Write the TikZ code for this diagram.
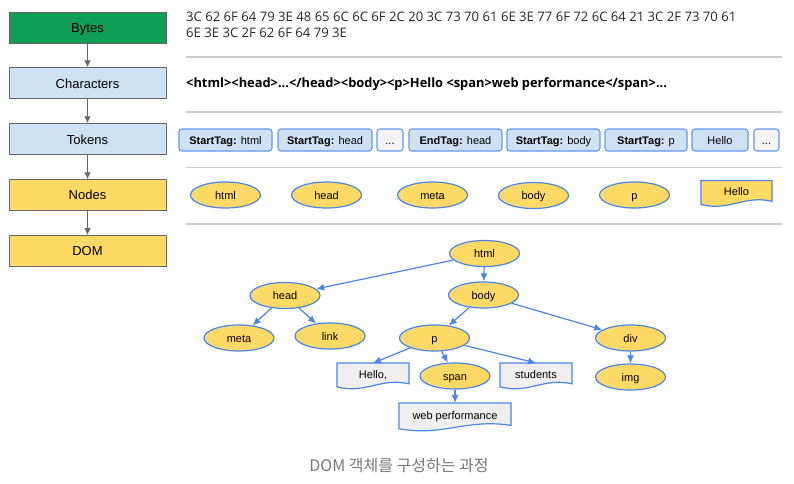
\documentclass[tikz,border=0pt]{standalone}
\usepackage{tikz}
\usetikzlibrary{arrows.meta,shapes.geometric,positioning}
\usepackage{xcolor}
\usepackage{fontspec}
\setmainfont{Liberation Sans}
\newfontfamily\hexfont{Open Sans}
\newfontfamily\krfont{Noto Sans CJK KR}

\definecolor{bytegreen}{HTML}{0F9D58}
\definecolor{charblue}{HTML}{CFE2F3}
\definecolor{nodeyellow}{HTML}{FFD966}
\definecolor{edgeblue}{HTML}{4A86E8}
\definecolor{docgray}{HTML}{EFEFEF}
\definecolor{dotgray}{HTML}{F3F3F3}
\definecolor{rulegray}{HTML}{CCCCCC}
\definecolor{stagegray}{HTML}{666666}
\definecolor{captiongray}{HTML}{777777}

% page with a wavy lower edge
\pgfdeclareshape{docpage}{
	\inheritsavedanchors[from=rectangle]
	\inheritanchorborder[from=rectangle]
	\inheritanchor[from=rectangle]{center}
	\inheritanchor[from=rectangle]{north}
	\inheritanchor[from=rectangle]{south}
	\inheritanchor[from=rectangle]{east}
	\inheritanchor[from=rectangle]{west}
	\inheritanchor[from=rectangle]{north east}
	\inheritanchor[from=rectangle]{north west}
	\inheritanchor[from=rectangle]{south east}
	\inheritanchor[from=rectangle]{south west}
	\backgroundpath{
		\southwest \pgfgetlastxy{\docxa}{\docya}
		\northeast \pgfgetlastxy{\docxb}{\docyb}
		\pgfpathmoveto{\pgfpoint{\docxa}{\docyb}}
		\pgfpathlineto{\pgfpoint{\docxb}{\docyb}}
		\pgfpathlineto{\pgfpoint{\docxb}{\docya+0.2*(\docyb-\docya)}}
		\pgfpathcurveto
			{\pgfpoint{\docxa+0.6*(\docxb-\docxa)}{\docya+0.45*(\docyb-\docya)}}
			{\pgfpoint{\docxa+0.4*(\docxb-\docxa)}{\docya-0.2*(\docyb-\docya)}}
			{\pgfpoint{\docxa}{\docya+0.08*(\docyb-\docya)}}
		\pgfpathclose
	}
}

\begin{document}
\begin{tikzpicture}[x=1pt,y=-1pt]
\tikzstyle{stage} = [
	shape=rectangle,
	draw=stagegray, %grey border
	line width=0.9pt,
	minimum width=157pt,
	minimum height=31pt,
	text height=9.4pt, text depth=0pt,
	font=\fontsize{13}{15}\selectfont
];
\tikzstyle{token} = [
	shape=rectangle,
	rounded corners=3pt,
	draw=edgeblue!85,
	fill=charblue,
	line width=1.1pt,
	minimum height=22pt,
	inner sep=0pt,
	text height=8pt, text depth=0pt,
	font=\fontsize{11}{13}\selectfont
];
\tikzstyle{tagnode} = [
	shape=ellipse,
	draw=edgeblue,
	fill=nodeyellow,
	line width=1.2pt,
	minimum width=70pt,
	minimum height=26pt,
	inner sep=0pt,
	text height=8pt, text depth=0pt,
	font=\fontsize{11}{13}\selectfont
];
\tikzstyle{docnode} = [
	shape=docpage,
	draw=edgeblue,
	fill=docgray,
	line width=1.2pt,
	minimum height=26pt,
	inner sep=0pt,
	outer sep=0pt,
	text height=4.5pt, text depth=0pt,
	font=\fontsize{11}{13}\selectfont
];
\tikzstyle{rule} = [draw=rulegray, line width=1.2pt];

\useasboundingbox (0,0) rectangle (794,483);

%stages on the left
\node[stage, fill=bytegreen] (bytes) at (87.5,27.5) {Bytes};
\node[stage, fill=charblue, below=24pt of bytes] (chars) {Characters};
\node[stage, fill=charblue, below=24pt of chars] (tokens) {Tokens};
\node[stage, fill=nodeyellow, below=24pt of tokens] (nodes) {Nodes};
\node[stage, fill=nodeyellow, below=24pt of nodes] (dom) {DOM};

\draw[-{Latex[length=7pt,width=6.5pt]}, line width=1pt, color=stagegray]
	(bytes) edge[] (chars)
	(chars) edge[] (tokens)
	(tokens) edge[] (nodes)
	(nodes) edge[] (dom)
;

%bytes and characters
\node[anchor=north west, inner sep=0pt, align=left, text=black!85,
	font=\hexfont\fontsize{13.1}{16}\selectfont] (hexdump) at (186,12)
	{3C 62 6F 64 79 3E 48 65 6C 6C 6F 2C 20 3C 73 70 61 6E 3E 77 6F 72 6C 64 21 3C 2F 73 70 61\\
	6E 3E 3C 2F 62 6F 64 79 3E};
\node[anchor=west, inner sep=0pt, text=black,
	font=\hexfont\bfseries\fontsize{12.85}{15}\selectfont] (chartext) at (186,84)
	{<html><head>...</head><body><p>Hello <span>web performance</span>...};

\draw[rule] (186,57) -- (782,57);
\draw[rule] (186,112) -- (782,112);
\draw[rule] (186,167.5) -- (782,167.5);
\draw[rule] (186,224) -- (782,224);

%tokens
\node[token, minimum width=93pt] (tkhtml) at (225.5,140) {\textbf{StartTag:} html};
\node[token, minimum width=94pt] (tkhead) at (325,140) {\textbf{StartTag:} head};
\node[token, minimum width=26pt, fill=dotgray] (tkdots) at (390,140) {...};
\node[token, minimum width=93pt] (tkendhead) at (455.5,140) {\textbf{EndTag:} head};
\node[token, minimum width=93pt] (tkbody) at (553.5,140) {\textbf{StartTag:} body};
\node[token, minimum width=82pt] (tkp) at (646,140) {\textbf{StartTag:} p};
\node[token, minimum width=56pt] (tkhello) at (720,140) {Hello};
\node[token, minimum width=25pt, fill=dotgray] (tkmore) at (766.5,140) {...};

%nodes
\node[tagnode] (ndhtml) at (225.5,195) {html};
\node[tagnode] (ndhead) at (326.5,195) {head};
\node[tagnode] (ndmeta) at (432.5,195) {meta};
\node[tagnode] (ndbody) at (533.5,195.5) {body};
\node[tagnode] (ndp) at (634.5,195) {p};
\node[docnode, fill=nodeyellow, minimum width=71pt] (ndhello) at (736.5,193.5) {Hello};

%dom tree
\node[tagnode] (html) at (484.5,253.5) {html};
\node[tagnode] (head) at (285,295.5) {head};
\node[tagnode] (body) at (483.5,295) {body};
\node[tagnode] (meta) at (239,338) {meta};
\node[tagnode] (link) at (330,336) {link};
\node[tagnode] (p) at (434.5,338) {p};
\node[tagnode] (div) at (630.5,338) {div};
\node[tagnode] (span) at (455,376) {span};
\node[tagnode] (img) at (630.5,377) {img};
\node[docnode, minimum width=72pt] (hello) at (373,376) {Hello,};
\node[docnode, minimum width=72pt] (students) at (536,376) {students};
\node[docnode, minimum width=112pt, minimum height=28pt] (webperf) at (455,417) {web performance};

\draw[-{Latex[length=8pt,width=7pt]}, line width=1.2pt, color=edgeblue]
	(html) edge[] (head)
	(html) edge[] (body)
	(head) edge[] (meta)
	(head) edge[] (link)
	(body) edge[] (p)
	(body) edge[] (div)
	(p) edge[] (hello.north)
	(p) edge[] (span)
	(p) edge[] (students.north)
	(span) edge[] (webperf)
	(div) edge[] (img)
;

\node[text=captiongray, font=\krfont\fontsize{16}{18}\selectfont] (caption) at (399,466)
	{DOM 객체를 구성하는 과정};
\end{tikzpicture}
\end{document}
